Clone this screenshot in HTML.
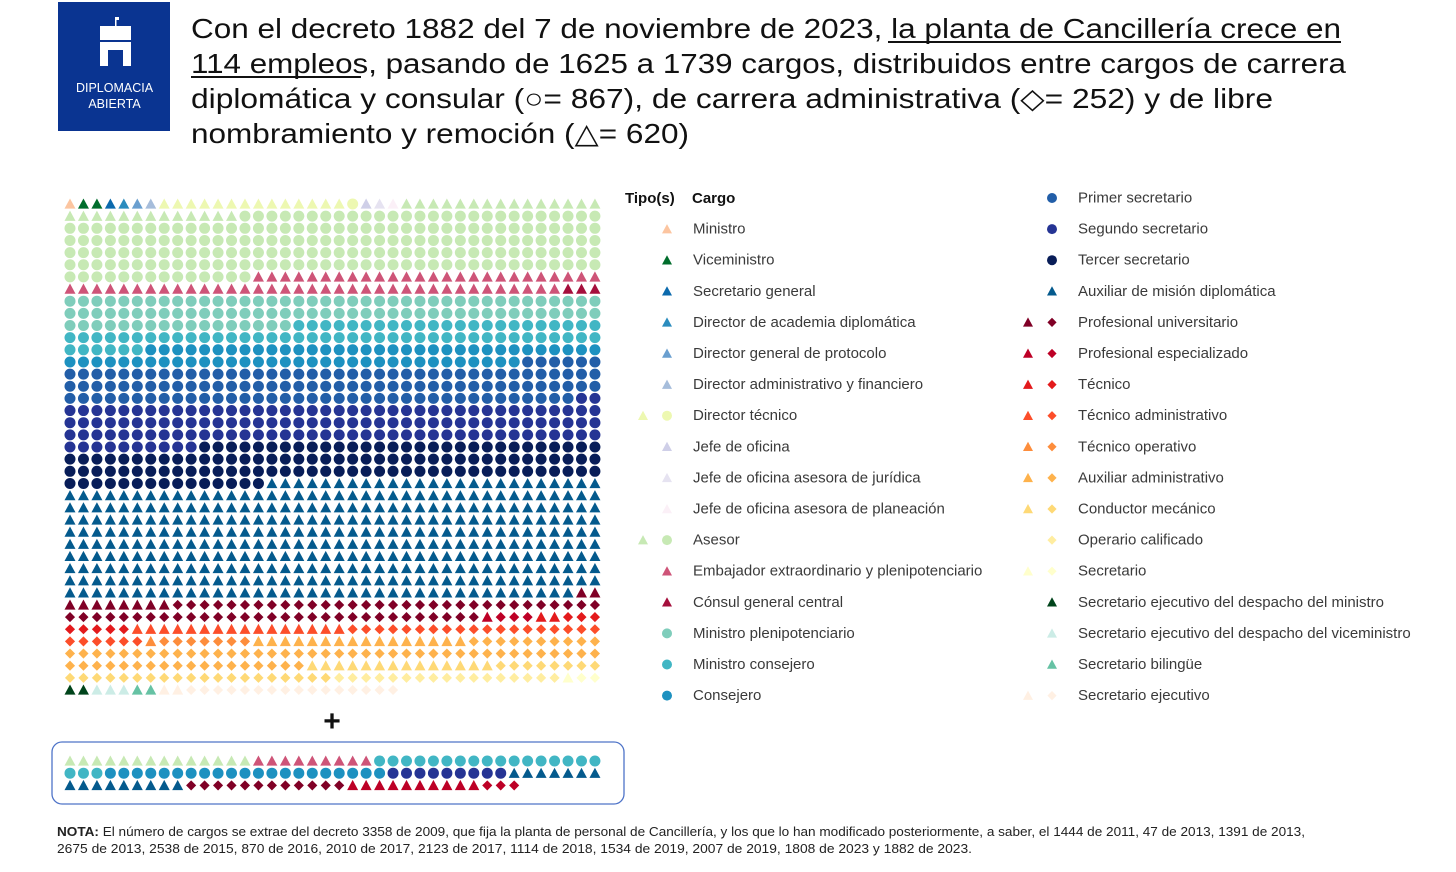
<!DOCTYPE html>
<html><head><meta charset="utf-8">
<style>
html,body{margin:0;padding:0;background:#fff;}
body{width:1456px;height:867px;overflow:hidden;font-family:"Liberation Sans",sans-serif;}
svg text{font-family:"Liberation Sans",sans-serif;}
</style></head>
<body>
<svg id="chart" width="1456" height="867" viewBox="0 0 1456 867" xmlns="http://www.w3.org/2000/svg">
  <g>
    <rect x="58" y="2" width="112" height="129" fill="#0a3491"/>
    <rect x="100" y="26" width="31" height="14" fill="#fff"/>
    <rect x="100" y="42" width="31" height="24" fill="#fff"/>
    <rect x="108" y="50" width="15" height="16" fill="#0a3491"/>
    <rect x="115" y="17" width="1.5" height="9" fill="#fff"/>
    <rect x="116" y="17" width="3" height="3" fill="#fff"/>
    <text x="114.5" y="92" font-size="12.5" fill="#fff" text-anchor="middle">DIPLOMACIA</text>
    <text x="114.5" y="108" font-size="12.5" fill="#fff" text-anchor="middle">ABIERTA</text>
  </g>
  <g font-size="28" fill="#111">
    <text x="191" y="38" textLength="1150" lengthAdjust="spacingAndGlyphs">Con el decreto 1882 del 7 de noviembre de 2023, la planta de Cancillería crece en</text>
    <line x1="888" y1="42" x2="1341" y2="42" stroke="#111" stroke-width="2"/>
    <text x="191" y="73" textLength="1155" lengthAdjust="spacingAndGlyphs">114 empleos, pasando de 1625 a 1739 cargos, distribuidos entre cargos de carrera</text>
    <line x1="191" y1="77" x2="361" y2="77" stroke="#111" stroke-width="2"/>
    <text x="191" y="108" textLength="1082" lengthAdjust="spacingAndGlyphs">diplomática y consular (○= 867), de carrera administrativa (◇= 252) y de libre</text>
    <text x="191" y="143" textLength="498" lengthAdjust="spacingAndGlyphs">nombramiento y remoción (△= 620)</text>
  </g>
  <g id="mainGrid"></g>
  <text x="332" y="731" font-size="30" font-weight="bold" text-anchor="middle" fill="#111">+</text>
  <rect x="52" y="742" width="572" height="62" rx="10" fill="none" stroke="#4f74c8" stroke-width="1.3"/>
  <g id="extraGrid"></g>
  <g id="legend" font-size="15" fill="#3a3a3a">
    <text x="625" y="203" font-weight="bold" font-size="15" fill="#111">Tipo(s)</text>
    <text x="692" y="203" font-weight="bold" font-size="15" fill="#111">Cargo</text>
  </g>
  <g font-size="12.5" fill="#222">
    <text x="57" y="836" textLength="1248" lengthAdjust="spacingAndGlyphs"><tspan font-weight="bold">NOTA:</tspan> El número de cargos se extrae del decreto 3358 de 2009, que fija la planta de personal de Cancillería, y los que lo han modificado posteriormente, a saber, el 1444 de 2011, 47 de 2013, 1391 de 2013,</text>
    <text x="57" y="853" textLength="915" lengthAdjust="spacingAndGlyphs">2675 de 2013, 2538 de 2015, 870 de 2016, 2010 de 2017, 2123 de 2017, 1114 de 2018, 1534 de 2019, 2007 de 2019, 1808 de 2023 y 1882 de 2023.</text>
  </g>
</svg>
<script>
// Categories (cargos) and colours
const catNames = ["Ministro","Viceministro","Secretario general","Director de academia diplomática","Director general de protocolo","Director administrativo y financiero","Director técnico","Jefe de oficina","Jefe de oficina asesora de jurídica","Jefe de oficina asesora de planeación","Asesor","Embajador extraordinario y plenipotenciario","Cónsul general central","Ministro plenipotenciario","Ministro consejero","Consejero","Primer secretario","Segundo secretario","Tercer secretario","Auxiliar de misión diplomática","Profesional universitario","Profesional especializado","Técnico","Técnico administrativo","Técnico operativo","Auxiliar administrativo","Conductor mecánico","Operario calificado","Secretario","Secretario ejecutivo del despacho del ministro","Secretario ejecutivo del despacho del viceministro","Secretario bilingüe","Secretario ejecutivo"];
const catColors = ["#fcc5a0","#006d2c","#0b6aad","#2b8cbe","#6a9fcf","#a6bddb","#edf8b1","#cfcfe8","#e6e3f1","#fbf0f7","#c7e9b4","#ce5478","#a50f3c","#7fcdbb","#41b6c4","#1d91c0","#225ea8","#253494","#081d58","#045a8d","#800026","#bd0026","#e31a1c","#fc4e2a","#fd8d3c","#feb24c","#fed976","#ffeda0","#ffffcc","#00441b","#ccece6","#66c2a4","#fff0e3"];
// Legend: shapes shown per category (t=triangle, c=circle, d=diamond)
const legendShapes = [["t"],["t"],["t"],["t"],["t"],["t"],["t","c"],["t"],["t"],["t"],["t","c"],["t"],["t"],["c"],["c"],["c"],["c"],["c"],["c"],["t"],["t","d"],["t","d"],["t","d"],["t","d"],["t","d"],["t","d"],["t","d"],["d"],["t","d"],["t"],["t"],["t"],["t","d"]];
// Main grid (1625 cargos) sequence: category index, shape, count
const mainCat   = [0,1,2,3,4,5,6,6,7,8,9,10,10,11,12,13,14,15,16,17,18,19,20,20,21,21,22,22,23,23,24,24,25,25,26,26,27,28,28,29,30,31,32,32];
const mainShape = ["t","t","t","t","t","t","t","c","t","t","t","t","c","t","t","c","c","c","c","c","c","t","t","d","t","d","t","d","t","d","t","d","t","d","t","d","d","t","d","t","t","t","t","d"];
const mainCount = [1,2,1,1,1,1,14,1,1,1,1,28,201,63,3,97,69,68,124,132,125,383,10,63,1,3,2,8,16,25,1,7,16,68,14,28,17,1,2,2,3,2,2,16];
// New posts (114)
const extraCat   = [10,11,14,15,17,19,20,21,21];
const extraShape = ["t","t","c","c","c","t","d","t","d"];
const extraCount = [14,9,20,21,9,16,12,10,3];

const NS="http://www.w3.org/2000/svg";
const COLS=40, X0=70, DX=13.46, Y0=204, DY=12.15;
function colX(i){return X0+(i%COLS)*DX;}
function rowY(i,y0,dy){return y0+Math.floor(i/COLS)*dy;}
function marker(parent,shape,cx,cy,color,size){
  let el;
  const r=size/2;
  if(shape==="c"){el=document.createElementNS(NS,"circle");el.setAttribute("cx",cx);el.setAttribute("cy",cy);el.setAttribute("r",r);}
  else if(shape==="t"){el=document.createElementNS(NS,"polygon");el.setAttribute("points",`${cx},${cy-r} ${cx+r},${cy+r*0.85} ${cx-r},${cy+r*0.85}`);}
  else {el=document.createElementNS(NS,"polygon");const q=r*0.92;el.setAttribute("points",`${cx},${cy-q} ${cx+q},${cy} ${cx},${cy+q} ${cx-q},${cy}`);}
  el.setAttribute("fill",color);
  parent.appendChild(el);
  return el;
}
function drawGrid(gid,cats,shapes,counts,y0,dy){
  const g=document.getElementById(gid);
  let idx=0;
  for(let s=0;s<cats.length;s++){
    for(let k=0;k<counts[s];k++){
      const el=marker(g,shapes[s],colX(idx),rowY(idx,y0,dy),catColors[cats[s]],11);
      
      
      idx++;
    }
  }
}
drawGrid("mainGrid",mainCat,mainShape,mainCount,Y0,DY);
drawGrid("extraGrid",extraCat,extraShape,extraCount,761,12.2);

// Legend
const lg=document.getElementById("legend");
for(let i=0;i<catNames.length;i++){
  const left=i<16;
  const row=left? i+1 : i-16;
  const y=197+row*31.1;
  const xa=left?643:1028, xb=left?667:1052, xl=left?693:1078;
  const sh=legendShapes[i];
  if(sh.length===2){
    const a=marker(lg,sh[0],xa,y+1,catColors[i],10);
    
    
    const b=marker(lg,sh[1],xb,y+1,catColors[i],10);
    
    
  } else {
    const a=marker(lg,sh[0],xb,y+1,catColors[i],10);
    
    
  }
  const t=document.createElementNS(NS,"text");
  t.setAttribute("x",xl);t.setAttribute("y",y+5.5);
  t.textContent=catNames[i];
  
  
  lg.appendChild(t);
}
</script>
</body></html>
